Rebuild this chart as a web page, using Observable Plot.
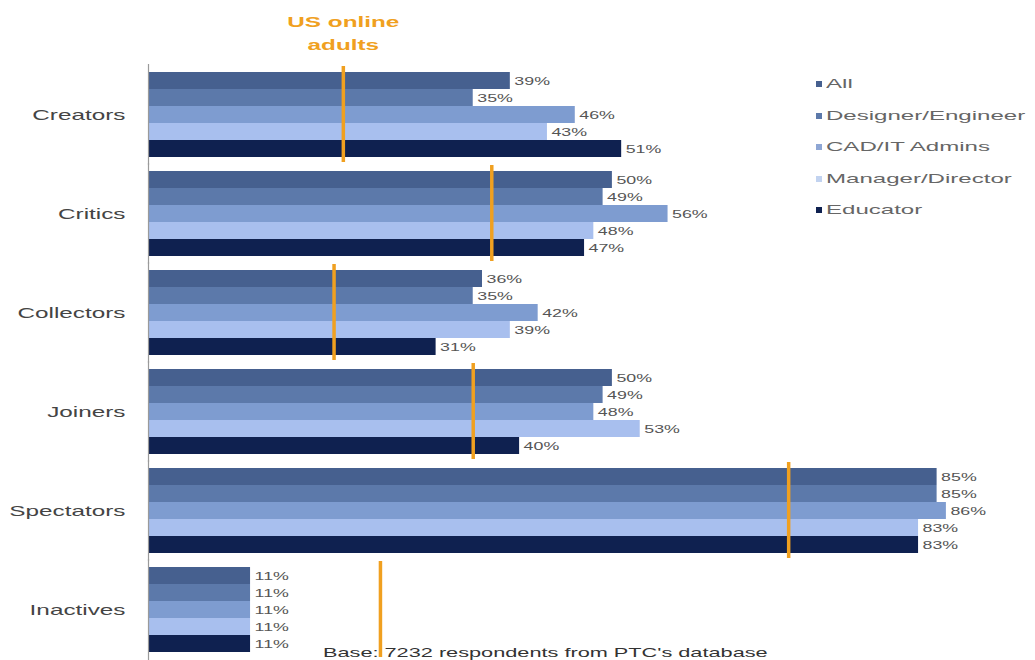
<!DOCTYPE html>
<html>
<head>
<meta charset="utf-8">
<script src="https://cdn.jsdelivr.net/npm/d3@7"></script>
<script src="https://cdn.jsdelivr.net/npm/@observablehq/plot@0.6"></script>
<style>
  html, body { margin: 0; padding: 0; background: #fff; }
  #wrap { position: relative; width: 1035px; height: 660px; overflow: hidden; font-family: Arial, "Liberation Sans", sans-serif; }
  #legend { position: absolute; left: 816px; top: 74px; }
  .li { position: absolute; left: 0; white-space: nowrap; height: 20px; }
  .sw { position: absolute; left: 0; top: 7px; width: 6px; height: 6px; }
  .lt { position: absolute; left: 10px; top: 0; line-height: 20px; font-size: 13px; color: #666; transform: scaleX(1.85); transform-origin: left center; }
  #foot { position: absolute; left: 323px; top: 645px; font-size: 13px; color: #333; white-space: nowrap; transform: scaleX(1.67); transform-origin: left center; }
</style>
</head>
<body>
<div id="wrap">
  <div id="chart"></div>
  <div id="legend"></div>
  <div id="foot">Base: 7232 respondents from PTC's database</div>
</div>
<script>
const categories = ["Creators", "Critics", "Collectors", "Joiners", "Spectators", "Inactives"];
const series = ["All", "Designer/Engineer", "CAD/IT Admins", "Manager/Director", "Educator"];
const allValues = [39, 50, 36, 50, 85, 11];
const designerValues = [35, 49, 35, 49, 85, 11];
const cadValues = [46, 56, 42, 48, 86, 11];
const managerValues = [43, 48, 39, 53, 83, 11];
const educatorValues = [51, 47, 31, 40, 83, 11];
const usOnlineAdults = [21, 37, 20, 35, 69, 25];
const seriesColors = ["#46608f", "#5c79aa", "#7e9cd0", "#a8bfee", "#0f2150"];
const legendColors = ["#46608f", "#5c79aa", "#8ea6d4", "#c2d3f0", "#0f2150"];

const seriesValues = [allValues, designerValues, cadValues, managerValues, educatorValues];
const rows = [];
categories.forEach((c, i) => {
  series.forEach((s, j) => rows.push({category: c, series: s, value: seriesValues[j][i]}));
});
const adults = categories.map((c, i) => ({category: c, value: usOnlineAdults[i]}));

const chart = Plot.plot({
  width: 1035,
  height: 660,
  marginLeft: 148,
  marginRight: 52,
  marginTop: 64,
  marginBottom: 0,
  style: {fontFamily: 'Arial, "Liberation Sans", sans-serif', background: "white"},
  x: {domain: [0, 90], axis: null},
  y: {domain: series, padding: 0, axis: null},
  fy: {domain: categories, padding: 0.12, paddingOuter: 0.06},
  color: {domain: series, range: seriesColors},
  marks: [
    Plot.axisFy({anchor: "left", tickSize: 0, tickPadding: 23, fontSize: 15, label: null, color: "#444"}),
    Plot.barX(rows, {fy: "category", y: "series", x: "value", fill: "series"}),
    Plot.ruleX(adults, {fy: "category", x: 0, stroke: "#9a9a9a", strokeWidth: 1.2, insetTop: -7, insetBottom: -7}),
    Plot.text(rows, {fy: "category", y: "series", x: "value", text: d => d.value + "%", dx: 4, textAnchor: "start", fontSize: 11, fill: "#555"}),
    Plot.ruleX(adults, {fy: "category", x: "value", stroke: "#f0a020", strokeWidth: 3.5, insetTop: -5, insetBottom: -4}),
    Plot.text(adults.slice(0, 1), {fy: "category", x: "value", frameAnchor: "top", text: () => "US online\nadults", lineAnchor: "bottom", dy: -22, lineHeight: 1.5, fontSize: 15, fontWeight: "bold", fill: "#f0a020"})
  ]
});

// the reference image is stretched horizontally: widen every text the same way
const SX = 1.62;
chart.querySelectorAll("text").forEach(t => {
  let tr = t.getAttribute("transform") || "";
  const xa = t.getAttribute("x");
  if (xa && /^-?[\d.]+$/.test(xa) && parseFloat(xa) !== 0) {
    tr += ` translate(${parseFloat(xa)},0)`;
    t.removeAttribute("x");
  }
  t.setAttribute("transform", tr + ` scale(${SX},1)`);
});
document.getElementById("chart").appendChild(chart);

const legend = document.getElementById("legend");
series.forEach((s, i) => {
  const d = document.createElement("div");
  d.className = "li";
  d.style.top = (i * 31.5) + "px";
  d.innerHTML = `<span class="sw" style="background:${legendColors[i]}"></span><span class="lt">${s}</span>`;
  legend.appendChild(d);
});
</script>
</body>
</html>
